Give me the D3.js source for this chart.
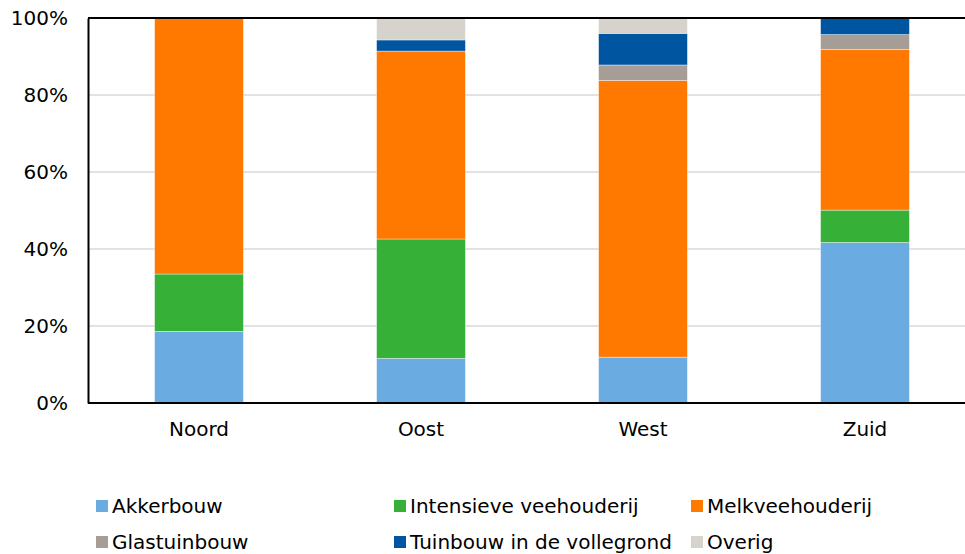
<!DOCTYPE html>
<html>
<head>
<meta charset="utf-8">
<script src="https://cdn.jsdelivr.net/npm/d3@7"></script>
<style>
  html, body { margin: 0; padding: 0; background: #fff; }
  svg { display: block; font-family: 'DejaVu Sans', Verdana, sans-serif; }
</style>
</head>
<body>
<div class="chart"></div>
<script>
// Chart parameters
const width = 965;
const height = 554;
const margin = { top: 18, right: -11, bottom: 151, left: 88 };

// Data (share in %, per region)
const regions = ['Noord', 'Oost', 'West', 'Zuid'];
const sectors = ['Akkerbouw', 'Intensieve veehouderij', 'Melkveehouderij',
  'Glastuinbouw', 'Tuinbouw in de vollegrond', 'Overig'];
const akkerbouw   = [18.6, 11.6, 11.9, 41.7];
const intensief   = [14.9, 31.0, 0.0, 8.4];
const melkvee     = [66.5, 48.8, 71.9, 41.7];
const glastuin    = [0.0, 0.0, 4.0, 3.9];
const tuinbouw    = [0.0, 2.9, 8.2, 4.3];
const overig      = [0.0, 5.7, 4.0, 0.0];
const yTicks = [0, 20, 40, 60, 80, 100];

const colors = ['#6aace2', '#36b036', '#ff7900', '#a59d96', '#0055a0', '#d5d3cc'];

// Table for d3.stack
const series = [akkerbouw, intensief, melkvee, glastuin, tuinbouw, overig];
const table = regions.map((r, i) => {
  const row = { region: r };
  sectors.forEach((s, j) => { row[s] = series[j][i]; });
  return row;
});

const svg = d3.select('.chart')
  .append('svg')
  .attr('width', width)
  .attr('height', height);

// Scales
const x = d3.scaleBand()
  .domain(regions)
  .range([margin.left, width - margin.right])
  .paddingInner(0.6)
  .paddingOuter(0.3);

const y = d3.scaleLinear()
  .domain([0, 100])
  .range([height - margin.bottom, margin.top]);

const color = d3.scaleOrdinal().domain(sectors).range(colors);

// Gridlines
svg.append('g')
  .selectAll('line')
  .data(yTicks.filter(t => t > 0 && t < 100))
  .join('line')
    .attr('x1', margin.left)
    .attr('x2', width)
    .attr('y1', d => y(d))
    .attr('y2', d => y(d))
    .attr('stroke', '#d9d9d9')
    .attr('stroke-width', 1.5);

// Stacked bars
const stacked = d3.stack().keys(sectors)(table);
svg.append('g')
  .selectAll('g')
  .data(stacked)
  .join('g')
    .attr('fill', d => color(d.key))
  .selectAll('rect')
  .data(d => d.filter(p => p[1] - p[0] > 0))
  .join('rect')
    .attr('x', d => x(d.data.region))
    .attr('width', x.bandwidth())
    .attr('y', d => y(d[1]))
    .attr('height', d => y(d[0]) - y(d[1]))
    .attr('stroke', 'rgba(255,255,255,0.5)')
    .attr('stroke-width', 0.75);

// Top border line
svg.append('line')
  .attr('x1', margin.left).attr('x2', width)
  .attr('y1', y(100)).attr('y2', y(100))
  .attr('stroke', '#000').attr('stroke-width', 2);

// Y axis
svg.append('g')
  .attr('transform', `translate(${margin.left},0)`)
  .call(d3.axisLeft(y).tickValues(yTicks).tickSize(0).tickPadding(20).tickFormat(d => d + '%'))
  .call(g => g.select('.domain').attr('stroke', '#000').attr('stroke-width', 2))
  .call(g => g.selectAll('text').attr('font-size', 20).attr('fill', '#000')
    .attr('font-family', "'DejaVu Sans', Verdana, sans-serif"));

// X axis
svg.append('g')
  .attr('transform', `translate(0,${y(0)})`)
  .call(d3.axisBottom(x).tickSize(0).tickPadding(19))
  .call(g => g.select('.domain').attr('stroke', '#000').attr('stroke-width', 2).attr('d', `M${margin.left},0H${width}`))
  .call(g => g.selectAll('text').attr('font-size', 20).attr('fill', '#000')
    .attr('font-family', "'DejaVu Sans', Verdana, sans-serif"));

// Legend
const legendX = [96, 394, 691];
const legendY = [506, 542];
const legend = svg.append('g')
  .selectAll('g')
  .data(sectors)
  .join('g')
    .attr('transform', (d, i) => `translate(${legendX[i % 3]},${legendY[Math.floor(i / 3)]})`);

legend.append('rect')
  .attr('x', 0).attr('y', -6)
  .attr('width', 12).attr('height', 12)
  .attr('fill', d => color(d));

legend.append('text')
  .attr('x', 16)
  .attr('dy', '0.35em')
  .attr('font-size', 20)
  .attr('fill', '#000')
  .text(d => d);
</script>
</body>
</html>
